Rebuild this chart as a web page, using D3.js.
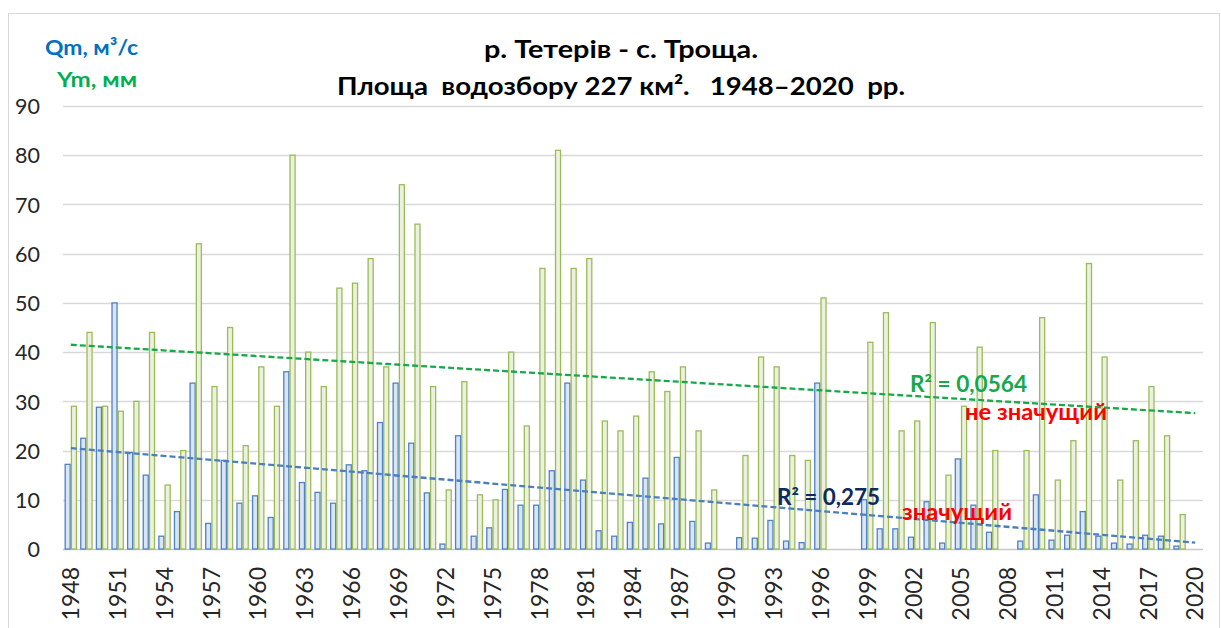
<!DOCTYPE html>
<html>
<head>
<meta charset="utf-8">
<script src="https://cdn.jsdelivr.net/npm/d3@7"></script>
<style>
  body { margin: 0; background: #fff; }
  text { font-family: Lato, "Open Sans", sans-serif; }
</style>
</head>
<body>
<svg id="chart"></svg>
<script>
// categories
var years = d3.range(1948, 2021);
var tickYears = d3.range(1948, 2021, 3);
var yTicks = [0, 10, 20, 30, 40, 50, 60, 70, 80, 90];

// Qm, m3/s (null = no data)
var qm = [17.2, 22.5, 28.8, 50, 19.6, 15.0, 2.6, 7.6, 33.7, 5.2,
	18.0, 9.3, 10.8, 6.4, 36.0, 13.5, 11.5, 9.3, 17.1, 15.9,
	25.7, 33.7, 21.5, 11.4, 1.0, 23.0, 2.6, 4.3, 12.1, 8.9,
	8.9, 15.9, 33.7, 14.0, 3.7, 2.6, 5.4, 14.4, 5.1, 18.6,
	5.6, 1.2, null, 2.3, 2.2, 5.8, 1.6, 1.3, 33.7, null,
	null, 10.0, 4.1, 4.1, 2.4, 9.6, 1.2, 18.3, 8.9, 3.4,
	null, 1.6, 11.0, 1.8, 2.8, 7.6, 2.6, 1.2, 1.0, 2.8,
	2.6, 0.6, null];

// Ym, mm
var ym = [29, 44, 29, 28, 30, 44, 13, 20, 62, 33,
	45, 21, 37, 29, 80, 40, 33, 53, 54, 59,
	37, 74, 66, 33, 12, 34, 11, 10, 40, 25,
	57, 81, 57, 59, 26, 24, 27, 36, 32, 37,
	24, 12, null, 19, 39, 37, 19, 18, 51, null,
	null, 42, 48, 24, 26, 46, 15, 29, 41, 20,
	null, 20, 47, 14, 22, 58, 39, 14, 22, 33,
	23, 7, null];

// linear trend values at first and last year
var trendQ = [20.5, 1.3];
var trendY = [41.5, 27.6];

var W = 1221, H = 628;
var margin = { top: 106, right: 18, bottom: 79, left: 63 };

var svg = d3.select('#chart')
	.attr('width', W)
	.attr('height', H);

// chart area frame
svg.append('rect')
	.attr('x', 8.5).attr('y', 13.5)
	.attr('width', W - 10).attr('height', H)
	.attr('fill', 'none')
	.attr('stroke', '#d9d9d9');

var x = d3.scaleBand()
	.domain(years)
	.range([margin.left, W - margin.right]);

var xs = d3.scaleBand()
	.domain(['q', 'y'])
	.range([0, x.bandwidth()])
	.paddingOuter(0.25);

var y = d3.scaleLinear()
	.domain([0, 90])
	.range([H - margin.bottom, margin.top]);

/* gridlines */
svg.append('g')
	.selectAll('line')
	.data(yTicks)
	.enter().append('line')
	.attr('x1', margin.left)
	.attr('x2', W - margin.right)
	.attr('y1', function(d) { return Math.round(y(d)) + 0.5; })
	.attr('y2', function(d) { return Math.round(y(d)) + 0.5; })
	.attr('stroke', function(d) { return d == 0 ? '#c8c8c8' : '#d9d9d9'; })
	.attr('stroke-width', 1.5);

/* y axis labels */
var yAxis = d3.axisLeft(y).tickValues(yTicks).tickSize(0).tickPadding(0);
var gy = svg.append('g')
	.attr('transform', 'translate(40,0)')
	.call(yAxis);
gy.select('.domain').remove();
gy.selectAll('text')
	.attr('font-family', 'Lato, sans-serif')
	.attr('font-size', 21.5)
	.attr('fill', '#262626')
	.attr('dy', '0.36em');

/* x axis labels */
var xAxis = d3.axisBottom(x).tickValues(tickYears).tickSize(0);
var gx = svg.append('g')
	.attr('transform', 'translate(0,' + (H - margin.bottom) + ')')
	.call(xAxis);
gx.select('.domain').remove();
gx.selectAll('text')
	.attr('font-family', 'Lato, sans-serif')
	.attr('font-size', 23)
	.attr('fill', '#262626')
	.attr('x', -18)
	.attr('y', 0)
	.attr('dy', '0.36em')
	.attr('transform', 'rotate(-90)')
	.style('text-anchor', 'end');

/* bars */
var rows = years.map(function(yr, i) { return { year: yr, q: qm[i], y: ym[i] }; });

var groups = svg.append('g')
	.selectAll('g')
	.data(rows)
	.enter().append('g')
	.attr('transform', function(d) { return 'translate(' + x(d.year) + ',0)'; });

groups.filter(function(d) { return d.q != null; })
	.append('rect')
	.attr('x', xs('q') + 0.6)
	.attr('y', function(d) { return y(d.q); })
	.attr('width', xs.bandwidth() - 1.2)
	.attr('height', function(d) { return y(0) - y(d.q); })
	.attr('fill', '#dae5f3')
	.attr('stroke', '#4f81c6')
	.attr('stroke-width', 1.3);

groups.filter(function(d) { return d.y != null; })
	.append('rect')
	.attr('x', xs('y') + 0.6)
	.attr('y', function(d) { return y(d.y); })
	.attr('width', xs.bandwidth() - 1.2)
	.attr('height', function(d) { return y(0) - y(d.y); })
	.attr('fill', '#ebf1de')
	.attr('stroke', '#9bbb59')
	.attr('stroke-width', 1.3);

/* trend lines */
var ends = [years[0], years[years.length - 1]];
var line = d3.line()
	.x(function(d) { return x(d[0]) + x.bandwidth() / 2; })
	.y(function(d) { return y(d[1]); });

svg.append('path')
	.datum([[ends[0], trendY[0]], [ends[1], trendY[1]]])
	.attr('d', line)
	.attr('fill', 'none')
	.attr('stroke', '#18a84a')
	.attr('stroke-width', 2.3)
	.attr('stroke-dasharray', '6,3');

svg.append('path')
	.datum([[ends[0], trendQ[0]], [ends[1], trendQ[1]]])
	.attr('d', line)
	.attr('fill', 'none')
	.attr('stroke', '#4a7ebf')
	.attr('stroke-width', 2.3)
	.attr('stroke-dasharray', '6,3');

/* annotations */
var notes = [
	{ t: 'R² = 0,0564', x: 910, y: 392, c: '#16a84a', w: 117 },
	{ t: 'не значущий', x: 965, y: 420, c: '#ff0000', w: 142 },
	{ t: 'R² = 0,275', x: 777, y: 505, c: '#0d2a5e', w: 103 },
	{ t: 'значущий', x: 902, y: 520, c: '#ff0000', w: 110 }
];
svg.append('g')
	.selectAll('text')
	.data(notes)
	.enter().append('text')
	.attr('x', function(d) { return d.x; })
	.attr('y', function(d) { return d.y; })
	.attr('fill', function(d) { return d.c; })
	.attr('font-size', 22.5)
	.attr('font-weight', 'bold')
	.attr('textLength', function(d) { return d.w; })
	.attr('lengthAdjust', 'spacingAndGlyphs')
	.text(function(d) { return d.t; });

/* title */
svg.append('text')
	.attr('x', 621).attr('y', 58)
	.attr('text-anchor', 'middle')
	.attr('font-size', 24.5)
	.attr('font-weight', 'bold')
	.attr('fill', '#000')
	.attr('textLength', 274)
	.attr('lengthAdjust', 'spacingAndGlyphs')
	.text('р. Тетерів - с. Троща.');

svg.append('text')
	.attr('x', 621).attr('y', 95)
	.attr('text-anchor', 'middle')
	.attr('font-size', 24.5)
	.attr('font-weight', 'bold')
	.attr('fill', '#000')
	.attr('textLength', 568)
	.attr('lengthAdjust', 'spacingAndGlyphs')
	.style('white-space', 'pre')
	.text('Площа  водозбору 227 км².   1948–2020  рр.');

/* series labels */
svg.append('text')
	.attr('x', 45).attr('y', 55)
	.attr('font-size', 21.5)
	.attr('font-weight', 'bold')
	.attr('fill', '#0070c0')
	.attr('textLength', 93)
	.attr('lengthAdjust', 'spacingAndGlyphs')
	.text('Qm, м³/с');

svg.append('text')
	.attr('x', 57).attr('y', 87)
	.attr('font-size', 21.5)
	.attr('font-weight', 'bold')
	.attr('fill', '#00b050')
	.attr('textLength', 80)
	.attr('lengthAdjust', 'spacingAndGlyphs')
	.text('Ym, мм');
</script>
</body>
</html>
